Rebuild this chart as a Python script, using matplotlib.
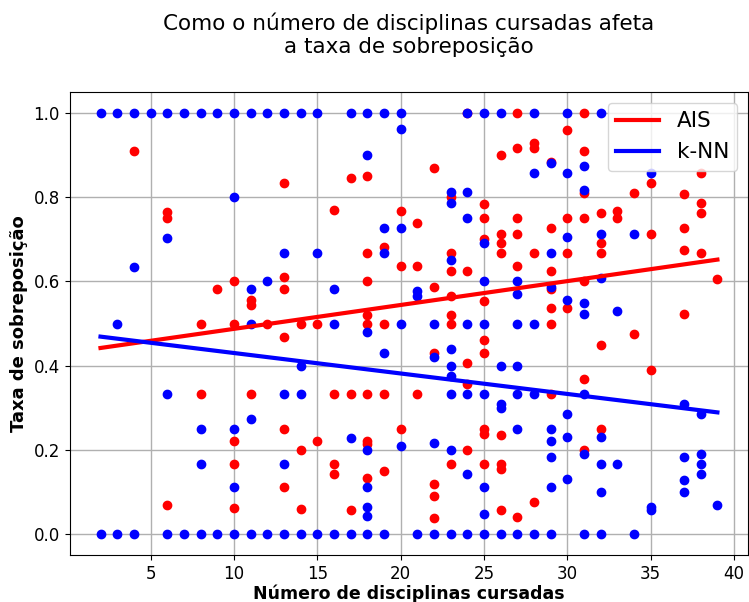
import numpy as np
import matplotlib
matplotlib.use("Agg")
import matplotlib.pyplot as plt

# AIS (vermelho)
ais_x = [4, 6, 6, 6, 8, 8, 9, 10, 10, 10, 10, 10, 11, 11, 11, 12,
         13, 13, 13, 13, 13, 13, 14, 14, 14, 15, 15, 16, 16, 16, 16,
         17, 17, 17, 18, 18, 18, 18, 18, 18, 18, 18, 18,
         19, 19, 19, 19, 20, 20, 20, 21, 21, 21,
         22, 22, 22, 22, 22, 22, 23, 23, 23, 23, 23, 23, 23,
         24, 24, 24, 24, 24, 25, 25, 25, 25, 25, 25, 25, 25, 25,
         26, 26, 26, 26, 26, 26, 26, 26, 27, 27, 27, 27, 27, 27,
         28, 28, 28, 28, 29, 29, 29, 29, 29, 29, 29, 30, 30, 30, 30,
         31, 31, 31, 31, 31, 31, 31, 32, 32, 32, 32, 32, 33, 33, 34, 34,
         35, 35, 35, 37, 37, 37, 37, 38, 38, 38, 38, 39]
ais_y = [0.91, 0.765, 0.75, 0.07, 0.5, 0.333, 0.583, 0.6, 0.5, 0.222, 0.167, 0.0625,
         0.556, 0.545, 0.333, 0.5,
         0.833, 0.611, 0.583, 0.467, 0.25, 0.111, 0.5, 0.2, 0.059, 0.5, 0.222,
         0.77, 0.333, 0.167, 0.143,
         0.846, 0.333, 0.056, 0.85, 0.667, 0.6, 0.52, 0.5, 0.333, 0.222, 0.214, 0.133,
         0.682, 0.5, 0.333, 0.15, 0.767, 0.636, 0.25, 0.739, 0.636, 0.333,
         0.87, 0.586, 0.43, 0.118, 0.091, 0.037, 0.8, 0.667, 0.625, 0.565, 0.52, 0.5, 0.167,
         1.0, 0.625, 0.406, 0.357, 0.2, 0.785, 0.75, 0.7, 0.553, 0.462, 0.429, 0.25, 0.238, 0.167,
         0.9, 0.714, 0.692, 0.667, 0.235, 0.167, 0.154, 0.056, 1.0, 0.917, 0.75, 0.714, 0.636, 0.04,
         0.929, 0.917, 0.667, 0.077, 0.885, 0.727, 0.625, 0.583, 0.538, 0.5, 0.333,
         0.96, 0.75, 0.667, 0.538,
         1.0, 0.909, 0.81, 0.75, 0.6, 0.368, 0.2, 0.762, 0.692, 0.667, 0.45, 0.25,
         0.767, 0.75, 0.81, 0.476,
         0.833, 0.714, 0.389, 0.808, 0.727, 0.676, 0.522, 0.857, 0.786, 0.762, 0.667, 0.606]

# k-NN (azul)
knn_x = [2, 2, 3, 3, 3, 4, 4, 4, 5, 6, 6, 6, 6, 7, 7, 8, 8, 8, 8, 9, 9,
         10, 10, 10, 10, 10, 11, 11, 11, 11, 11, 12, 12, 12,
         13, 13, 13, 13, 13, 14, 14, 14, 14, 15, 15, 15, 16, 16, 16, 17, 17, 17,
         18, 18, 18, 18, 18, 18, 18, 18, 19, 19, 19, 19, 19, 20, 20, 20, 20, 20,
         21, 21, 21, 22, 22, 22, 22, 23, 23, 23, 23, 23, 23, 23, 23, 23,
         24, 24, 24, 24, 24, 24, 24, 25, 25, 25, 25, 25, 25, 25, 25,
         26, 26, 26, 26, 26, 27, 27, 27, 27, 27, 27, 27, 28, 28, 28, 28, 28,
         29, 29, 29, 29, 29, 29, 29, 29, 30, 30, 30, 30, 30, 30, 30,
         31, 31, 31, 31, 31, 31, 31, 32, 32, 32, 32, 32, 32, 32, 33, 33, 34, 34,
         35, 35, 35, 37, 37, 37, 37, 38, 38, 38, 38, 39]
knn_y = [1.0, 0.0, 1.0, 0.5, 0.0, 1.0, 0.635, 0.0, 1.0, 1.0, 0.703, 0.333, 0.0, 1.0, 0.0,
         1.0, 0.25, 0.167, 0.0, 1.0, 0.0,
         1.0, 0.8, 0.25, 0.111, 0.0, 1.0, 0.583, 0.5, 0.273, 0.0, 1.0, 0.6, 0.0,
         1.0, 0.667, 0.333, 0.167, 0.0, 1.0, 0.4, 0.333, 0.0, 1.0, 0.667, 0.0,
         0.583, 0.5, 0.0, 1.0, 0.229, 0.0,
         1.0, 0.9, 0.48, 0.2, 0.111, 0.063, 0.042, 0.0, 1.0, 0.727, 0.667, 0.429, 0.0,
         1.0, 0.962, 0.727, 0.5, 0.21,
         0.577, 0.565, 0.0, 0.5, 0.42, 0.217, 0.0,
         0.812, 0.786, 0.65, 0.44, 0.4, 0.375, 0.333, 0.2, 0.0,
         1.0, 0.812, 0.75, 0.5, 0.333, 0.143, 0.0, 1.0, 0.692, 0.6, 0.5, 0.333, 0.111, 0.048, 0.0,
         1.0, 0.4, 0.308, 0.3, 0.0, 0.6, 0.571, 0.5, 0.4, 0.333, 0.25, 0.0,
         1.0, 0.857, 0.5, 0.333, 0.0,
         0.882, 0.667, 0.588, 0.25, 0.222, 0.182, 0.111, 0.0,
         1.0, 0.857, 0.706, 0.556, 0.286, 0.231, 0.13,
         0.875, 0.818, 0.55, 0.522, 0.333, 0.19, 0.0,
         1.0, 0.714, 0.609, 0.231, 0.167, 0.1, 0.0, 0.529, 0.167, 0.714, 0.0,
         0.857, 0.065, 0.056, 0.308, 0.182, 0.128, 0.1, 0.286, 0.19, 0.167, 0.143, 0.07]

# retas de tendencia
trend_x = [2, 39]
ais_trend = [0.442, 0.652]
knn_trend = [0.469, 0.289]

fig = plt.figure(figsize=(7.49, 6.02), dpi=100)
ax = fig.add_axes([0.093, 0.078, 0.906, 0.769])

ax.scatter(ais_x, ais_y, color='red', s=36, zorder=2)
ax.scatter(knn_x, knn_y, color='blue', s=36, zorder=2)
ax.plot(trend_x, ais_trend, color='red', lw=3, label='AIS', zorder=3)
ax.plot(trend_x, knn_trend, color='blue', lw=3, label='k-NN', zorder=3)

ax.grid(True, color='#b0b0b0', lw=1)
ax.set_axisbelow(True)
ax.tick_params(labelsize=12)
ax.set_xlabel("Número de disciplinas cursadas", fontsize=12.5, fontweight='bold', labelpad=1)
ax.set_ylabel("Taxa de sobreposição", fontsize=13, fontweight='bold')
ax.set_title("Como o número de disciplinas cursadas afeta\na taxa de sobreposição",
             fontsize=15.5, pad=28)
ax.legend(loc='upper right', fontsize=15.5)

fig.savefig("out.png", dpi=100)
